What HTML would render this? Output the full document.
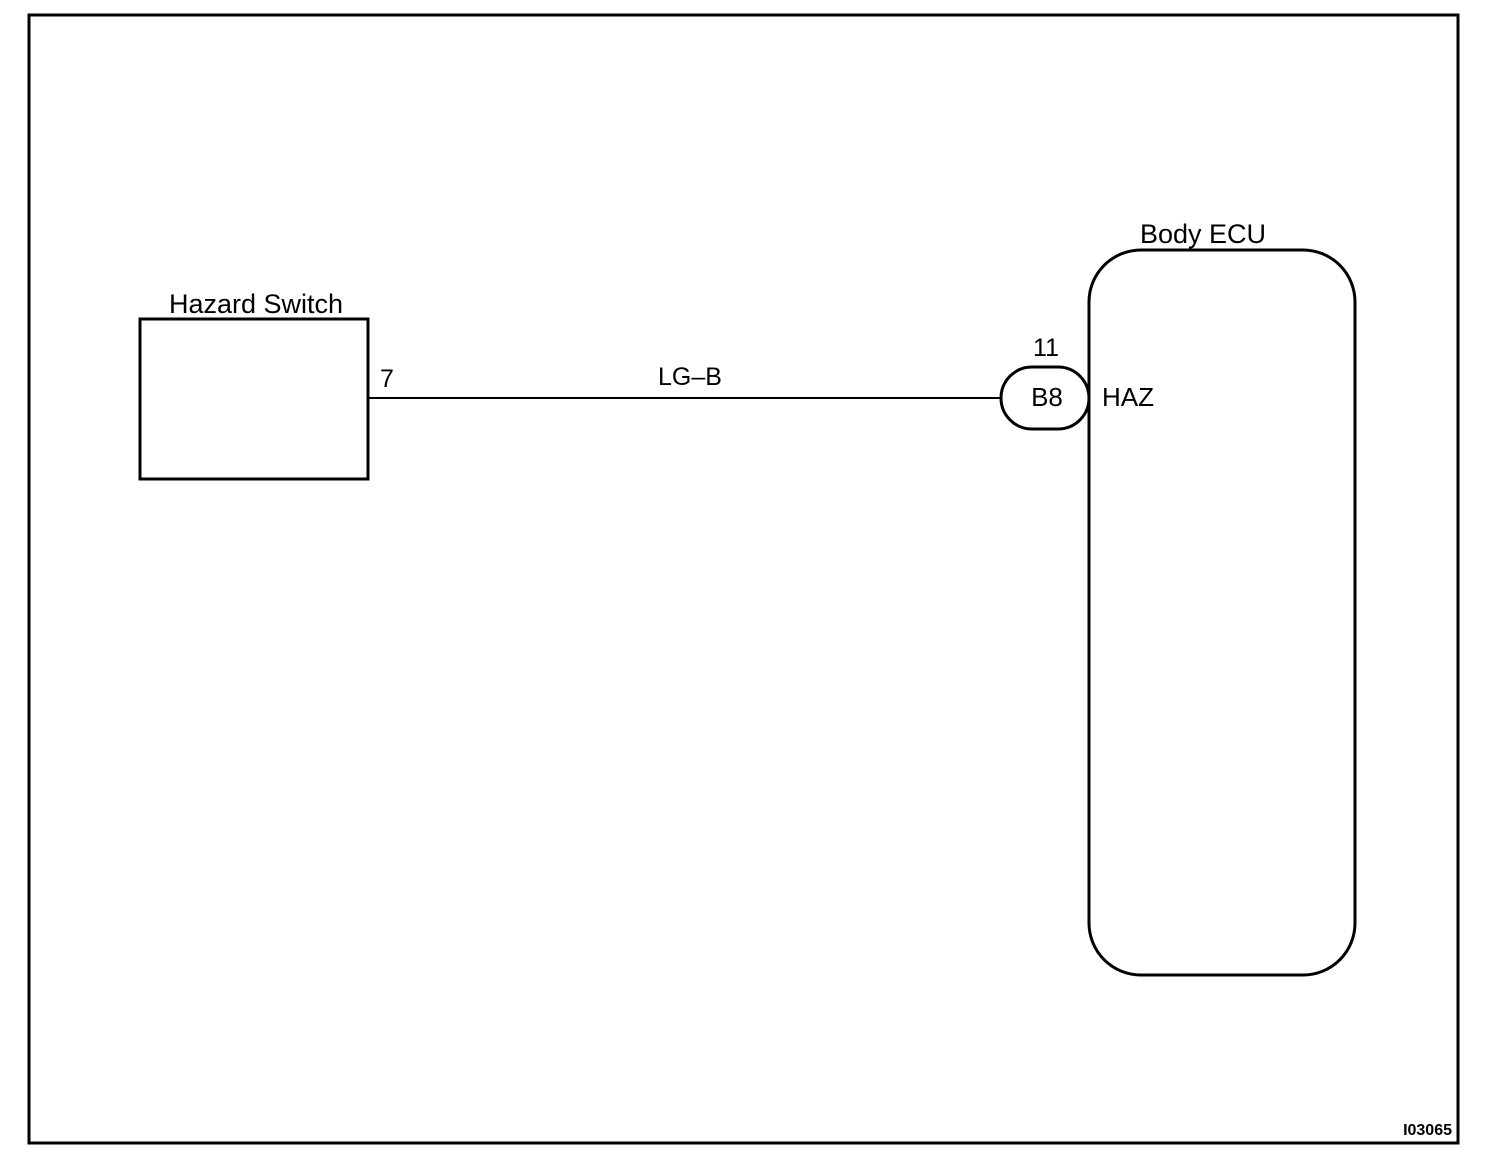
<!DOCTYPE html>
<html><head><style>body{margin:0;background:#fff}svg{display:block}</style></head><body>
<svg width="1504" height="1170" xmlns="http://www.w3.org/2000/svg" font-family="Liberation Sans, sans-serif">
<rect x="29" y="15" width="1429" height="1128" fill="none" stroke="#000" stroke-width="3"/>
<rect x="140" y="319" width="228" height="160" fill="none" stroke="#000" stroke-width="3"/>
<text x="256" y="313" font-size="27" text-anchor="middle">Hazard Switch</text>
<text x="380" y="387" font-size="25">7</text>
<line x1="368" y1="398" x2="1002" y2="398" stroke="#000" stroke-width="2"/>
<text x="690" y="385" font-size="25" text-anchor="middle">LG–B</text>
<rect x="1089" y="250" width="266" height="725" rx="52" fill="none" stroke="#000" stroke-width="3"/>
<text x="1203" y="243" font-size="27" text-anchor="middle">Body ECU</text>
<rect x="1001" y="367" width="88" height="62" rx="31" fill="#fff" stroke="#000" stroke-width="3"/>
<line x1="1089" y1="340" x2="1089" y2="460" stroke="#000" stroke-width="3"/>
<text x="1046" y="356" font-size="25" text-anchor="middle">11</text>
<text x="1047" y="406" font-size="26" text-anchor="middle">B8</text>
<text x="1102" y="406" font-size="26">HAZ</text>
<text x="1452" y="1135" font-size="16" font-weight="bold" text-anchor="end">I03065</text>
</svg>
</body></html>
